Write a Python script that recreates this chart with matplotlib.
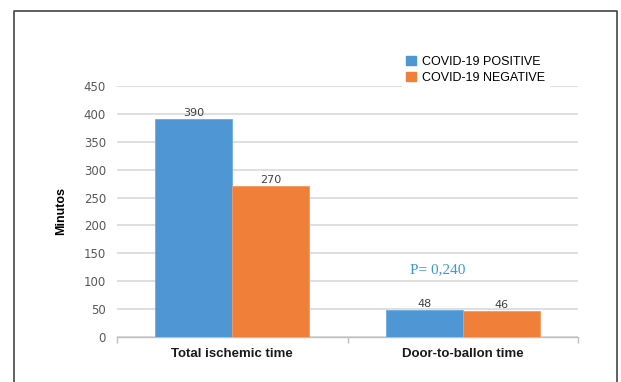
import matplotlib
matplotlib.use('Agg')
import matplotlib.pyplot as plt
import numpy as np
from matplotlib.lines import Line2D
from matplotlib.patches import Patch

categories = ['Total ischemic time', 'Door-to-ballon time']
positive = [390, 48]
negative = [270, 46]
series_names = ['COVID-19 POSITIVE', 'COVID-19 NEGATIVE']
yticks = [0, 50, 100, 150, 200, 250, 300, 350, 400, 450]
p_text = 'P= 0,240'

blue = '#4F97D4'
orange = '#F07F3A'
grid_gray = '#D9D9D9'
sans = ['Liberation Sans', 'DejaVu Sans']

fig = plt.figure(figsize=(6.21, 3.82), dpi=100)
ax = fig.add_axes([0.1884, 0.1178, 0.7424, 0.6571])

x = np.arange(len(categories))
w = 0.334
b1 = ax.bar(x - w / 2, positive, w, color=blue, edgecolor='#6AAAE0', linewidth=0.6, zorder=3)
b2 = ax.bar(x + w / 2, negative, w, color=orange, edgecolor='#F39A60', linewidth=0.6, zorder=3)

# value labels on top of each bar
for bars, vals in ((b1, positive), (b2, negative)):
    for r, v in zip(bars, vals):
        ax.text(r.get_x() + r.get_width() / 2, v + 2, str(v), ha='center', va='bottom',
                fontsize=8, color='#404040', zorder=4)

ax.set_xlim(-0.5, 1.5)
ax.set_ylim(0, 450)
ax.set_yticks(yticks)
ax.set_yticklabels([str(t) for t in yticks], fontsize=8.5, color='#595959')
ax.yaxis.grid(True, color=grid_gray, linewidth=1.2, zorder=0)
ax.tick_params(axis='y', length=0, pad=8)

# category separators as ticks below the axis
ax.set_xticks([-0.5, 0.5, 1.5])
ax.set_xticklabels([])
ax.tick_params(axis='x', length=4, color='#BFBFBF', width=1)
for i, c in enumerate(categories):
    ax.text(i, -31, c, ha='center', va='center', fontsize=9.5, fontweight='bold',
            family=sans, color='#1A1A1A')

for s in ['top', 'right', 'left']:
    ax.spines[s].set_visible(False)
ax.spines['bottom'].set_color('#BFBFBF')
ax.spines['bottom'].set_linewidth(1)

ax.set_ylabel('Minutos', fontsize=9, fontweight='bold', labelpad=12, family=sans)

ax.text(0.893, 120, p_text, ha='center', va='center', fontsize=11,
        family='Liberation Serif', color='#3A9AD9')

handles = [Patch(facecolor=blue, edgecolor=blue), Patch(facecolor=orange, edgecolor=orange)]
leg = fig.legend(handles, series_names, loc='upper left', bbox_to_anchor=(0.638, 0.88),
                 frameon=True, fancybox=False, framealpha=1, edgecolor='white',
                 prop={'family': sans, 'size': 9}, handlelength=0.8, handleheight=0.8,
                 handletextpad=0.5, labelspacing=0.3, borderpad=0.3)

# outer frame around the figure (open at the bottom)
frame = Line2D([14 / 621, 14 / 621, 617 / 621, 617 / 621], [0, 1 - 11 / 382, 1 - 11 / 382, 0],
               transform=fig.transFigure, color='#444444', linewidth=1.2)
fig.add_artist(frame)

fig.savefig('out.png', dpi=100)
